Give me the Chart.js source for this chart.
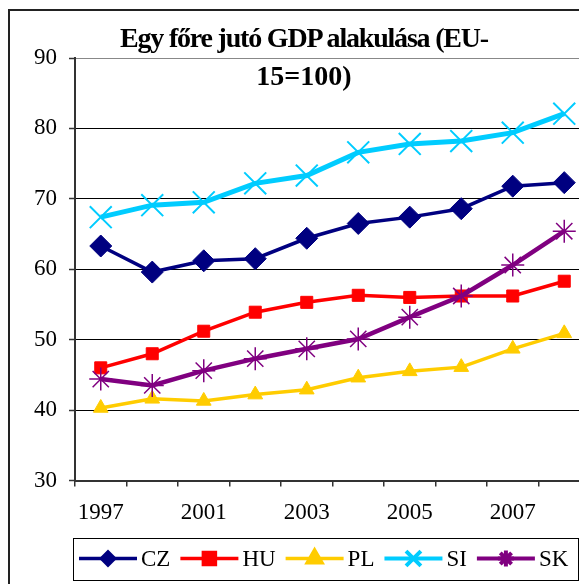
<!DOCTYPE html>
<html lang="hu">
<head>
<meta charset="utf-8">
<title>Egy főre jutó GDP alakulása</title>
<script src="https://cdn.jsdelivr.net/npm/chart.js@4/dist/chart.umd.min.js"></script>
<style>
  html, body { margin: 0; padding: 0; background: #fff; overflow: hidden; }
  #keret { position: absolute; left: 8px; top: 9px; width: 700px; height: 700px;
           border-left: 2px solid #222; border-top: 2px solid #222; }
  #doboz { position: absolute; left: 0; top: 0; width: 660px; height: 584px; }
  #cim { position: absolute; left: 104px; width: 400px; top: 19px; text-align: center;
         font: bold 28px "Liberation Serif", "Times New Roman", serif; line-height: 38px; color: #000; }
  #cim .elso { letter-spacing: -1.2px; }
</style>
</head>
<body>
<div id="keret"></div>
<div id="doboz"><canvas id="grafikon"></canvas></div>
<div id="cim"><span class="elso">Egy főre jutó GDP alakulása (EU-</span><br>15=100)</div>
<script>
// kategóriák (csak minden második évszám látszik a tengelyen)
const evek = ['1997', '', '2001', '', '2003', '', '2005', '', '2007', ''];

// EU-15 = 100
const cz = [63.3, 59.6, 61.2, 61.5, 64.4, 66.5, 67.4, 68.6, 71.8, 72.3];
const hu = [46.0, 48.0, 51.2, 53.9, 55.3, 56.3, 56.0, 56.2, 56.2, 58.3];
const pl = [40.3, 41.6, 41.3, 42.2, 42.9, 44.6, 45.5, 46.1, 48.7, 50.9];
const si = [67.4, 69.1, 69.5, 72.2, 73.3, 76.6, 77.8, 78.2, 79.4, 82.1];
const sk = [44.4, 43.5, 45.6, 47.3, 48.7, 50.1, 53.2, 56.2, 60.6, 65.4];

const yMin = 30, yMax = 90, yLepes = 10;

const betu = '"Liberation Serif", "Times New Roman", serif';

function sorozat(nev, adat, szin, stilus, sugar, vastag, pontVastag, jelMeret, sorrend) {
    return {
        label: nev,
        data: adat,
        borderColor: szin,
        backgroundColor: szin,
        pointBackgroundColor: szin,
        pointBorderColor: szin,
        pointStyle: stilus,
        pointRadius: sugar,
        pointBorderWidth: pontVastag,
        borderWidth: vastag,
        tension: 0,
        fill: false,
        clip: false,
        order: sorrend,
        jelMeret: jelMeret
    };
}

// keretes jelmagyarázat alul, vonal + jelölő + név
const kereteslegend = {
    id: 'kereteslegend',
    afterDraw(chart) {
        const ctx = chart.ctx;
        const top = 538.5, magas = 42, bal = 73.5, jobb = 578.5;
        const cy = top + magas / 2 - 1;
        ctx.save();
        ctx.strokeStyle = '#000';
        ctx.lineWidth = 1;
        ctx.strokeRect(bal, top, jobb - bal, magas);
        ctx.font = '23px ' + betu;
        ctx.textBaseline = 'middle';
        ctx.textAlign = 'left';
        let x = 79;
        chart.data.datasets.forEach(ds => {
            ctx.strokeStyle = ds.borderColor;
            ctx.fillStyle = ds.borderColor;
            ctx.lineWidth = Math.min(ds.borderWidth, 4);
            ctx.beginPath();
            ctx.moveTo(x, cy);
            ctx.lineTo(x + 58, cy);
            ctx.stroke();
            Chart.helpers.drawPoint(ctx, {
                pointStyle: ds.pointStyle,
                radius: ds.jelMeret,
                rotation: 0,
                borderWidth: Math.min(ds.pointBorderWidth, 1.5)
            }, x + 29, cy);
            ctx.fillStyle = '#000';
            ctx.fillText(ds.label, x + 62, cy + 1);
            x += 62 + ctx.measureText(ds.label).width + 10;
        });
        ctx.restore();
    }
};

const grafikon = new Chart(document.getElementById('grafikon'), {
    type: 'line',
    data: {
        labels: evek,
        datasets: [
            sorozat('CZ', cz, '#000080', 'rectRot', 11, 3.5, 1, 6.5, 4),
            sorozat('HU', hu, '#FF0000', 'rect', 8.5, 3.5, 1, 8.5, 3),
            sorozat('PL', pl, '#FFCC00', 'triangle', 8.5, 3.5, 1, 8.5, 2),
            sorozat('SI', si, '#00CCFF', 'crossRot', 15.5, 5, 2, 10.5, 1),
            sorozat('SK', sk, '#800080', 'star', 11.5, 4.5, 1.5, 8, 0)
        ]
    },
    options: {
        responsive: true,
        maintainAspectRatio: false,
        animation: false,
        events: [],
        layout: { padding: { top: 58, right: 70, bottom: 0, left: 0 } },
        plugins: {
            legend: { display: false },
            title: { display: false },
            tooltip: { enabled: false }
        },
        scales: {
            x: {
                type: 'category',
                offset: true,
                afterFit(scale) { scale.height = 103.5; },
                grid: {
                    offset: true,
                    drawOnChartArea: false,
                    drawTicks: true,
                    tickLength: 6,
                    color: '#333',
                    lineWidth: 1.5
                },
                border: { color: '#333', width: 2 },
                ticks: {
                    autoSkip: false,
                    maxRotation: 0,
                    padding: 13,
                    color: '#000',
                    font: { family: betu, size: 23 }
                }
            },
            y: {
                min: yMin,
                max: yMax,
                afterFit(scale) { scale.width = 75; },
                grid: {
                    color: c => (c.tick && c.tick.value === yMax) ? '#888' : '#000',
                    lineWidth: 1,
                    tickLength: 6,
                    tickColor: '#333',
                    tickWidth: 1.5
                },
                border: { color: '#333', width: 2 },
                ticks: {
                    stepSize: yLepes,
                    padding: 12,
                    color: '#000',
                    font: { family: betu, size: 23 }
                }
            }
        }
    },
    plugins: [kereteslegend]
});
</script>
</body>
</html>
